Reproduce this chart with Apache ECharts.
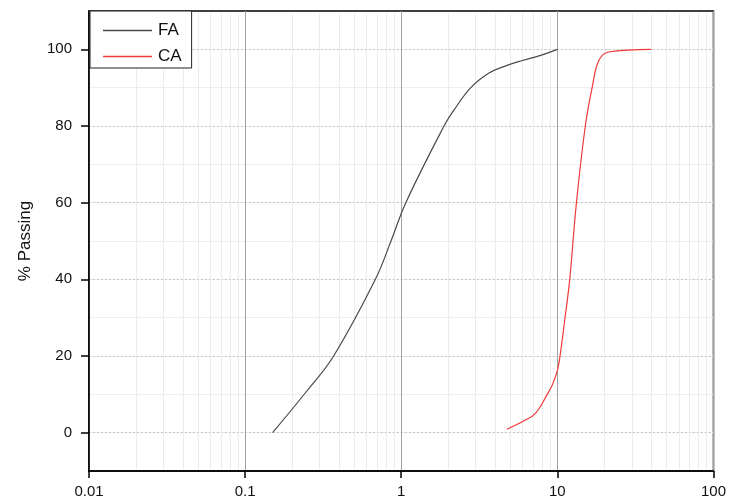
<!DOCTYPE html>
<html>
<head>
<meta charset="utf-8">
<script src="https://cdn.jsdelivr.net/npm/echarts@6/dist/echarts.min.js"></script>
<style>
  html, body { margin: 0; padding: 0; background: #fff; }
  #chart { width: 729px; height: 502px; }
</style>
</head>
<body>
<div id="chart"></div>
<script>
// sieve size (mm) vs % passing
const faSize = [0.15, 0.25, 0.369, 0.683, 0.86, 1.07, 1.88, 2.18, 2.79, 3.65, 4.67, 5.96, 7.62, 10]
const faPass = [0, 11, 20, 40, 50, 60, 80, 84.2, 90, 93.8, 95.7, 97.1, 98.3, 100]

const caSize = [4.75, 6.11, 7.26, 8.61, 9.27, 10, 10.4, 11.2, 12, 13.25, 15.1, 16.7, 18.4, 21.3, 40]
const caPass = [0.9, 3.1, 5.1, 10, 12.4, 16.2, 20, 30, 40, 60, 80, 90, 97, 99.3, 100]

const yTicks = [0, 20, 40, 60, 80, 100]
const decades = [0.01, 0.1, 1, 10]

// light minor grid lines at 2..9 of each decade
const minorX = []
decades.forEach(d => {
  for (let k = 2; k <= 9; k++) {
    const v = +(d * k).toPrecision(3)
    minorX.push([{ coord: [v, -9.6] }, { coord: [v, 109.6] }])
  }
})

const font = 'Liberation Sans, Arial, sans-serif'
const chart = echarts.init(document.getElementById('chart'))

chart.setOption({
  animation: false,
  backgroundColor: '#fff',
  grid: {
    left: 89, right: 14, top: 11, bottom: 31,
    show: true, borderColor: '#000', borderWidth: 1.5
  },
  legend: {
    left: 90,
    top: 11,
    orient: 'vertical',
    backgroundColor: '#fff',
    borderColor: '#222',
    borderWidth: 1,
    borderRadius: 0,
    padding: [10, 10, 2, 13],
    icon: 'rect',
    itemWidth: 49,
    itemHeight: 1.3,
    itemGap: 7,
    data: ['FA', 'CA'],
    textStyle: { fontFamily: font, fontSize: 17, color: '#111', lineHeight: 19, padding: [0, 0, 0, 1] }
  },
  xAxis: {
    type: 'log',
    logBase: 10,
    min: 0.01,
    max: 100,
    axisLine: { onZero: false, lineStyle: { color: '#000', width: 1.5 } },
    axisTick: { length: 7, lineStyle: { color: '#000', width: 1.5 } },
    axisLabel: {
      fontFamily: font, fontSize: 15, color: '#111', margin: 13,
      formatter: v => String(+v.toPrecision(3))
    },
    splitLine: { show: true, lineStyle: { color: '#a0a0a0', width: 1 } }
  },
  yAxis: [
    {
      // minor horizontal lines every 10
      type: 'value',
      min: -10,
      max: 110,
      interval: 10,
      position: 'right',
      axisLine: { show: false },
      axisTick: { show: false },
      axisLabel: { show: false },
      splitLine: { show: true, showMinLine: false, showMaxLine: false, lineStyle: { color: '#efefef', width: 1 } }
    },
    {
      type: 'value',
      min: -10,
      max: 110,
      position: 'left',
      name: '% Passing',
      nameLocation: 'middle',
      nameGap: 55,
      nameTextStyle: { fontFamily: font, fontSize: 17, color: '#111' },
      axisLine: { show: true, onZero: false, lineStyle: { color: '#000', width: 1.5 } },
      axisTick: { show: true, length: 8, customValues: yTicks, lineStyle: { color: '#000', width: 1.5 } },
      axisLabel: { fontFamily: font, fontSize: 15, color: '#111', margin: 17, customValues: yTicks },
      splitLine: { show: true, lineStyle: { color: '#b8b8b8', width: 1, type: [1.5, 2.5] } }
    }
  ],
  series: [
    {
      name: 'minor',
      type: 'line',
      yAxisIndex: 1,
      data: [],
      z: 1,
      silent: true,
      markLine: {
        z: 1,
        silent: true,
        symbol: 'none',
        label: { show: false },
        lineStyle: { color: '#ececec', width: 1, type: 'solid' },
        data: minorX
      }
    },
    {
      name: 'FA',
      type: 'line',
      yAxisIndex: 1,
      data: faSize.map((s, i) => [s, faPass[i]]),
      smooth: 0.4,
      symbol: 'none',
      color: '#4a4a4a',
      lineStyle: { color: '#4a4a4a', width: 1.2 },
      z: 3
    },
    {
      name: 'CA',
      type: 'line',
      yAxisIndex: 1,
      data: caSize.map((s, i) => [s, caPass[i]]),
      smooth: 0.4,
      symbol: 'none',
      color: '#f03a3a',
      lineStyle: { color: '#f03a3a', width: 1.2 },
      z: 3
    }
  ]
})
</script>
</body>
</html>
